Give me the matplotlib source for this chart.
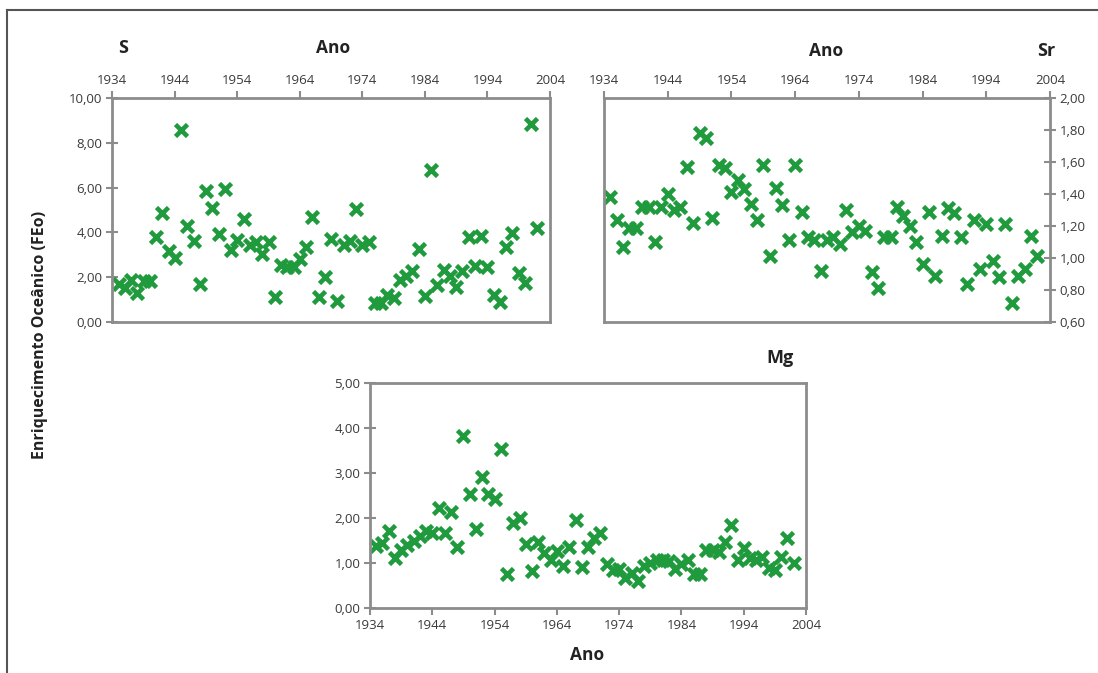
import matplotlib.pyplot as plt
from matplotlib.lines import Line2D
from matplotlib.ticker import FuncFormatter

# anos de amostragem (um valor por ano)
anos = list(range(1935, 2003))

s_feo = [1.70, 1.50, 1.88, 1.31, 1.85, 1.85, 3.81, 4.85, 3.18, 2.87,
         8.57, 4.29, 3.63, 1.70, 5.85, 5.07, 3.93, 5.92, 3.21, 3.66,
         4.58, 3.44, 3.59, 3.04, 3.59, 1.10, 2.54, 2.44, 2.44, 2.80,
         3.36, 4.70, 1.13, 2.02, 3.69, 0.95, 3.44, 3.63, 5.04, 3.44,
         3.56, 0.83, 0.86, 1.21, 1.06, 1.88, 2.05, 2.29, 3.24, 1.16,
         6.79, 1.65, 2.32, 2.05, 1.58, 2.29, 3.81, 2.50, 3.86, 2.44,
         1.21, 0.91, 3.33, 3.99, 2.20, 1.76, 8.84, 4.18]

sr_feo = [1.38, 1.24, 1.07, 1.19, 1.19, 1.32, 1.32, 1.10, 1.32, 1.40,
          1.30, 1.32, 1.57, 1.22, 1.78, 1.75, 1.25, 1.58, 1.56, 1.41,
          1.49, 1.43, 1.34, 1.24, 1.58, 1.01, 1.44, 1.33, 1.11, 1.58,
          1.29, 1.13, 1.11, 0.92, 1.11, 1.13, 1.09, 1.30, 1.16, 1.20,
          1.17, 0.91, 0.81, 1.13, 1.13, 1.32, 1.26, 1.20, 1.10, 0.96,
          1.29, 0.89, 1.14, 1.31, 1.28, 1.13, 0.84, 1.24, 0.93, 1.21,
          0.98, 0.88, 1.21, 0.72, 0.89, 0.93, 1.14, 1.01]

mg_feo = [1.38, 1.43, 1.71, 1.10, 1.28, 1.39, 1.48, 1.59, 1.71, 1.67,
          2.21, 1.67, 2.13, 1.36, 3.82, 2.53, 1.76, 2.91, 2.53, 2.41,
          3.52, 0.74, 1.88, 1.99, 1.42, 0.82, 1.45, 1.22, 1.05, 1.27,
          0.93, 1.36, 1.95, 0.91, 1.34, 1.54, 1.67, 0.97, 0.84, 0.85,
          0.65, 0.78, 0.60, 0.93, 1.00, 1.06, 1.07, 1.04, 0.85, 0.97,
          1.07, 0.76, 0.76, 1.28, 1.28, 1.24, 1.47, 1.84, 1.06, 1.32,
          1.10, 1.06, 1.12, 0.88, 0.84, 1.12, 1.54, 1.00]

anos_ticks = [1934, 1944, 1954, 1964, 1974, 1984, 1994, 2004]

verde = '#1f9a3c'
cinza = '#8c8c8c'
texto = '#3a3a3a'

plt.rcParams['font.family'] = ['Open Sans', 'DejaVu Sans']

virgula = FuncFormatter(lambda v, p: f'{v:.2f}'.replace('.', ','))


def painel(ax, y, ylim, ystep, xtop, yright):
    ax.plot(anos, y, linestyle='none', marker='x', markersize=8.5,
            markeredgewidth=3.3, color=verde)
    ax.set_xlim(1934, 2004)
    ax.set_ylim(*ylim)
    ax.set_xticks(anos_ticks)
    n = round((ylim[1] - ylim[0]) / ystep)
    ax.set_yticks([ylim[0] + i * ystep for i in range(n + 1)])
    ax.yaxis.set_major_formatter(virgula)
    for sp in ax.spines.values():
        sp.set_color(cinza)
        sp.set_linewidth(2)
    if xtop:
        ax.xaxis.tick_top()
    if yright:
        ax.yaxis.tick_right()
    ax.tick_params(axis='x', direction='out', length=5, width=1.5,
                   color=cinza, labelsize=9.5, labelcolor=texto, pad=3)
    ax.tick_params(axis='y', direction='inout', length=8, width=1.5,
                   color=cinza, labelsize=9.5, labelcolor=texto, pad=3)


fig = plt.figure(figsize=(10.98, 6.73), dpi=100)

ax_s = fig.add_axes([0.1023, 0.5215, 0.3986, 0.3329])
painel(ax_s, s_feo, (0, 10), 2, True, False)

ax_sr = fig.add_axes([0.5501, 0.5215, 0.4062, 0.3329])
painel(ax_sr, sr_feo, (0.6, 2.0), 0.2, True, True)

ax_mg = fig.add_axes([0.3370, 0.0970, 0.3971, 0.3343])
painel(ax_mg, mg_feo, (0, 5), 1, False, False)

# títulos e rótulos
W, H = 1098, 673
negrito = dict(fontweight='bold', color='#222222', ha='center', va='center')
fig.text(123 / W, 1 - 48 / H, 'S', fontsize=13, **negrito)
fig.text(333 / W, 1 - 48 / H, 'Ano', fontsize=12.5, **negrito)
fig.text(826 / W, 1 - 51 / H, 'Ano', fontsize=12.5, **negrito)
fig.text(1046 / W, 1 - 51 / H, 'Sr', fontsize=13, **negrito)
fig.text(780 / W, 1 - 358 / H, 'Mg', fontsize=13, **negrito)
fig.text(587 / W, 1 - 655 / H, 'Ano', fontsize=12.5, **negrito)
fig.text(40 / W, 1 - 335 / H, 'Enriquecimento Oceânico (FEo)', fontsize=11.5,
         rotation=90, **negrito)

# moldura (topo e lado esquerdo)
fig.add_artist(Line2D([7 / W, 1.0], [1 - 10 / H, 1 - 10 / H],
                      transform=fig.transFigure, color='#555555', lw=1.5))
fig.add_artist(Line2D([7 / W, 7 / W], [0.0, 1 - 10 / H],
                      transform=fig.transFigure, color='#555555', lw=1.5))

fig.savefig('out.png', dpi=100)
